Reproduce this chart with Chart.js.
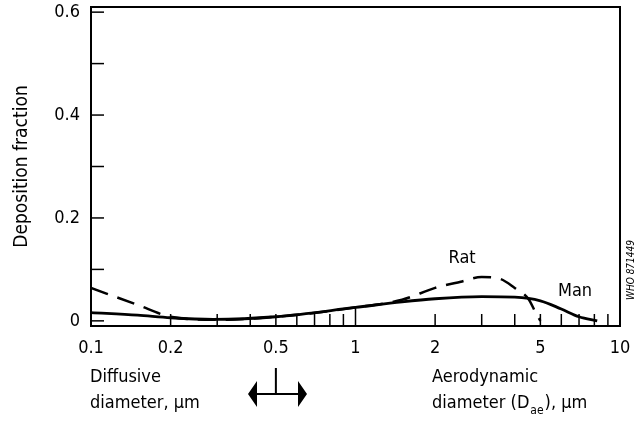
<!DOCTYPE html>
<html>
<head>
<meta charset="utf-8">
<script src="https://cdn.jsdelivr.net/npm/chart.js@4.4.1/dist/chart.umd.min.js"></script>
<style>
  html, body { margin: 0; padding: 0; background: #fff; }
  #wrap { width: 640px; height: 429px; position: relative; }
</style>
</head>
<body>
<div id="wrap"><canvas id="myChart"></canvas></div>
<script>
// particle size (um) and deposition fraction
const manSizes = [0.1, 0.15, 0.2, 0.29, 0.5, 1, 1.5, 2, 3, 4, 5, 6, 7, 8.2];
const manDeposition = [0.016, 0.011, 0.006, 0.003, 0.008, 0.026, 0.037, 0.043, 0.047, 0.046, 0.039, 0.023, 0.008, 0];
const ratSizes = [0.1, 0.15, 0.2, 0.3, 0.5, 1, 1.5, 2, 2.5, 3, 3.5, 4, 4.5, 4.8, 5];
const ratDeposition = [0.064, 0.031, 0.008, 0.002, 0.008, 0.026, 0.041, 0.064, 0.076, 0.085, 0.082, 0.064, 0.043, 0.016, 0];

const xTickValues = [0.1, 0.2, 0.5, 1, 2, 5, 10];
const xMinorTicks = [0.3, 0.4, 0.6, 0.7, 0.8, 0.9, 3, 4, 6, 7, 8, 9];
const yTickValues = [0, 0.2, 0.4, 0.6];
const yMinorTicks = [0.1, 0.3, 0.5];

const FONT = "'DejaVu Sans Condensed', 'Liberation Sans Narrow', sans-serif";

function toPoints(xs, ys) {
    return xs.map((x, i) => ({ x: x, y: ys[i] }));
}

// frame, inward ticks and the annotation texts
const decorations = {
    id: 'decorations',
    afterDraw(chart) {
        const ctx = chart.ctx;
        const area = chart.chartArea;
        const xs = chart.scales.x;
        const ys = chart.scales.y;

        ctx.save();
        ctx.strokeStyle = '#000';
        ctx.fillStyle = '#000';

        // frame
        ctx.lineWidth = 2;
        ctx.strokeRect(area.left, area.top, area.right - area.left, area.bottom - area.top);

        // x ticks (inside, from the bottom)
        ctx.lineWidth = 1.5;
        xTickValues.concat(xMinorTicks).forEach(v => {
            if (v <= 0.1 || v >= 10) return;
            const px = xs.getPixelForValue(v);
            const len = v === 1 ? 20 : 12;
            ctx.beginPath();
            ctx.moveTo(px, area.bottom);
            ctx.lineTo(px, area.bottom - len);
            ctx.stroke();
        });

        // y ticks (inside, from the left)
        yTickValues.concat(yMinorTicks).forEach(v => {
            const py = ys.getPixelForValue(v);
            ctx.beginPath();
            ctx.moveTo(area.left, py);
            ctx.lineTo(area.left + 13, py);
            ctx.stroke();
        });

        // curve labels
        ctx.font = '18px ' + FONT;
        ctx.textAlign = 'center';
        ctx.textBaseline = 'middle';
        ctx.fillText('Rat', xs.getPixelForValue(2.53), ys.getPixelForValue(0.122));
        ctx.fillText('Man', xs.getPixelForValue(6.76), ys.getPixelForValue(0.058));

        // axis captions below the ticks
        ctx.textAlign = 'left';
        ctx.fillText('Diffusive', 90, 377);
        ctx.fillText('diameter, \u03BCm', 90, 403);
        ctx.fillText('Aerodynamic', 432, 377);
        let tx = 432;
        ctx.fillText('diameter (D', tx, 403);
        tx += ctx.measureText('diameter (D').width;
        ctx.font = '12px ' + FONT;
        ctx.fillText('ae', tx + 1, 411);
        tx += ctx.measureText('ae').width + 2;
        ctx.font = '18px ' + FONT;
        ctx.fillText('), \u03BCm', tx, 403);

        // double arrow at 0.5 um
        const ax = xs.getPixelForValue(0.5);
        const ay = 394;
        ctx.lineWidth = 2;
        ctx.beginPath();
        ctx.moveTo(ax, 368);
        ctx.lineTo(ax, ay);
        ctx.moveTo(252, ay);
        ctx.lineTo(303, ay);
        ctx.stroke();
        ctx.beginPath();
        ctx.moveTo(248, ay);
        ctx.lineTo(257, ay - 13);
        ctx.lineTo(257, ay + 13);
        ctx.closePath();
        ctx.moveTo(307, ay);
        ctx.lineTo(298, ay - 13);
        ctx.lineTo(298, ay + 13);
        ctx.closePath();
        ctx.fill();

        // figure number
        ctx.translate(631, 270);
        ctx.rotate(-Math.PI / 2);
        ctx.font = 'italic 10px ' + FONT;
        ctx.textAlign = 'center';
        ctx.fillText('WHO 871449', 0, 0);
        ctx.restore();
    }
};

const ctx = document.getElementById('myChart').getContext('2d');

const chartInstance = new Chart(ctx, {
    type: 'line',
    data: {
        datasets: [{
            label: 'Man',
            data: toPoints(manSizes, manDeposition),
            borderColor: '#000',
            borderWidth: 2.8,
            pointRadius: 0,
            cubicInterpolationMode: 'monotone',
            fill: false
        }, {
            label: 'Rat',
            data: toPoints(ratSizes, ratDeposition),
            borderColor: '#000',
            borderWidth: 2.5,
            borderDash: [18, 10],
            pointRadius: 0,
            cubicInterpolationMode: 'monotone',
            fill: false
        }]
    },
    options: {
        responsive: true,
        maintainAspectRatio: false,
        animation: false,
        layout: {
            padding: { top: 7, right: 20, left: 0, bottom: 0 }
        },
        plugins: {
            legend: { display: false },
            tooltip: { enabled: false }
        },
        scales: {
            x: {
                type: 'logarithmic',
                min: 0.1,
                max: 10,
                afterFit: scale => {
                    scale.height = 103;
                    scale.paddingLeft = 0;
                    scale.paddingRight = 0;
                },
                afterBuildTicks: scale => {
                    scale.ticks = xTickValues.map(v => ({ value: v }));
                },
                ticks: {
                    color: '#000',
                    font: { family: FONT, size: 18 },
                    padding: 12,
                    maxRotation: 0,
                    autoSkip: false,
                    callback: v => String(v)
                },
                grid: { display: false, drawTicks: false },
                border: { display: false }
            },
            y: {
                min: -0.01,
                max: 0.61,
                afterFit: scale => {
                    scale.width = 91;
                    scale.paddingTop = 0;
                    scale.paddingBottom = 0;
                },
                afterBuildTicks: scale => {
                    scale.ticks = yTickValues.map(v => ({ value: v }));
                },
                ticks: {
                    color: '#000',
                    font: { family: FONT, size: 18 },
                    padding: 11,
                    callback: v => String(v)
                },
                grid: { display: false, drawTicks: false },
                border: { display: false },
                title: {
                    display: true,
                    text: 'Deposition fraction',
                    color: '#000',
                    font: { family: FONT, size: 19 },
                    padding: { top: 11, bottom: 0 }
                }
            }
        }
    },
    plugins: [decorations]
});
</script>
</body>
</html>
